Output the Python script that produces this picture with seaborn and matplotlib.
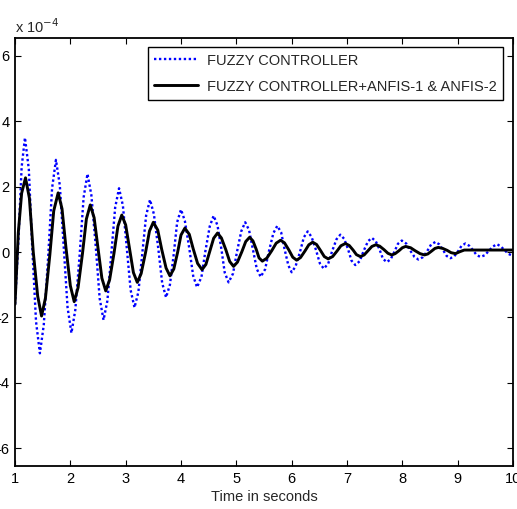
import matplotlib
matplotlib.use("Agg")
import matplotlib.pyplot as plt
import seaborn as sns
import pandas as pd

# ---- data (y in units of 1e-4) ----
t_fuzzy = [1.00, 1.06, 1.12, 1.18, 1.25, 1.31, 1.38, 1.45, 1.52, 1.60, 1.67, 1.74,
           1.81, 1.88, 1.95, 2.02, 2.09, 2.17, 2.24, 2.31, 2.38, 2.46, 2.53, 2.60,
           2.67, 2.74, 2.81, 2.88, 2.95, 3.02, 3.09, 3.16, 3.23, 3.30, 3.37, 3.44,
           3.51, 3.59, 3.66, 3.73, 3.80, 3.87, 3.93, 4.00, 4.07, 4.15, 4.22, 4.29,
           4.37, 4.44, 4.52, 4.59, 4.66, 4.73, 4.79, 4.86, 4.94, 5.01, 5.09, 5.16,
           5.23, 5.30, 5.37, 5.44, 5.52, 5.59, 5.67, 5.74, 5.81, 5.87, 5.94, 6.00,
           6.07, 6.15, 6.22, 6.29, 6.36, 6.44, 6.51, 6.58, 6.66, 6.73, 6.81, 6.88,
           6.95, 7.02, 7.08, 7.15, 7.23, 7.30, 7.38, 7.45, 7.52, 7.59, 7.65, 7.72,
           7.79, 7.86, 7.92, 7.99, 8.07, 8.14, 8.22, 8.29, 8.37, 8.45, 8.52, 8.60,
           8.67, 8.74, 8.80, 8.87, 8.94, 9.01, 9.07, 9.14, 9.21, 9.28, 9.34, 9.41,
           9.49, 9.56, 9.64, 9.71, 9.78, 9.85, 9.92, 10.00]
y_fuzzy = [-1.60, 0.30, 2.60, 3.50, 2.53, 0.20, -2.13, -3.10, -2.23, -0.14, 1.95, 2.82,
           2.04, 0.17, -1.70, -2.48, -1.77, -0.05, 1.67, 2.39, 1.74, 0.16, -1.42, -2.08,
           -1.49, -0.07, 1.36, 1.95, 1.42, 0.13, -1.17, -1.70, -1.22, -0.05, 1.12, 1.60,
           1.16, 0.10, -0.95, -1.39, -1.00, -0.05, 0.91, 1.30, 0.95, 0.11, -0.73, -1.08,
           -0.76, 0.02, 0.79, 1.11, 0.81, 0.09, -0.63, -0.93, -0.66, -0.01, 0.64, 0.91,
           0.67, 0.08, -0.52, -0.76, -0.53, 0.03, 0.58, 0.80, 0.60, 0.10, -0.41, -0.62,
           -0.44, 0.00, 0.45, 0.63, 0.46, 0.06, -0.35, -0.51, -0.36, 0.02, 0.39, 0.53,
           0.40, 0.08, -0.26, -0.40, -0.28, 0.03, 0.33, 0.43, 0.33, 0.07, -0.21, -0.31,
           -0.22, 0.02, 0.25, 0.35, 0.26, 0.05, -0.15, -0.23, -0.16, 0.03, 0.23, 0.31,
           0.23, 0.05, -0.12, -0.19, -0.13, 0.03, 0.19, 0.26, 0.19, 0.05, -0.09, -0.15,
           -0.10, 0.03, 0.17, 0.24, 0.17, 0.05, -0.06, -0.12]

t_anfis = [1.00, 1.06, 1.12, 1.19, 1.26, 1.33, 1.41, 1.48, 1.55, 1.63, 1.70, 1.78,
           1.85, 1.92, 2.00, 2.07, 2.14, 2.22, 2.29, 2.36, 2.43, 2.50, 2.57, 2.64,
           2.71, 2.79, 2.86, 2.93, 3.00, 3.07, 3.14, 3.21, 3.28, 3.36, 3.43, 3.50,
           3.58, 3.65, 3.73, 3.80, 3.87, 3.94, 4.00, 4.07, 4.15, 4.22, 4.30, 4.38,
           4.45, 4.52, 4.59, 4.66, 4.73, 4.81, 4.88, 4.95, 5.02, 5.10, 5.17, 5.24,
           5.30, 5.36, 5.41, 5.47, 5.55, 5.64, 5.72, 5.80, 5.87, 5.95, 6.02, 6.09,
           6.16, 6.24, 6.31, 6.38, 6.45, 6.52, 6.59, 6.66, 6.74, 6.82, 6.89, 6.97,
           7.04, 7.11, 7.17, 7.24, 7.31, 7.38, 7.45, 7.52, 7.59, 7.67, 7.74, 7.81,
           7.87, 7.94, 8.00, 8.06, 8.15, 8.23, 8.32, 8.40, 8.46, 8.53, 8.59, 8.65,
           8.73, 8.81, 8.88, 8.96, 9.04, 9.12, 9.50, 10.00]
y_anfis = [-1.60, 0.60, 1.80, 2.27, 1.65, 0.00, -1.35, -1.96, -1.41, -0.08, 1.26, 1.81,
           1.32, 0.15, -1.03, -1.52, -1.09, -0.04, 1.01, 1.44, 1.05, 0.12, -0.80, -1.19,
           -0.85, -0.03, 0.79, 1.13, 0.83, 0.10, -0.63, -0.93, -0.66, -0.01, 0.64, 0.91,
           0.67, 0.09, -0.49, -0.73, -0.52, 0.00, 0.52, 0.73, 0.54, 0.10, -0.35, -0.54,
           -0.38, 0.02, 0.42, 0.58, 0.43, 0.07, -0.29, -0.44, -0.31, 0.01, 0.32, 0.45,
           0.34, 0.08, -0.18, -0.28, -0.19, 0.04, 0.27, 0.36, 0.28, 0.06, -0.16, -0.25,
           -0.17, 0.03, 0.22, 0.30, 0.23, 0.05, -0.14, -0.21, -0.14, 0.03, 0.19, 0.26,
           0.20, 0.06, -0.08, -0.14, -0.09, 0.04, 0.17, 0.22, 0.18, 0.07, -0.04, -0.09,
           -0.05, 0.04, 0.13, 0.17, 0.13, 0.04, -0.05, -0.09, -0.06, 0.03, 0.11, 0.14,
           0.11, 0.05, -0.02, -0.05, 0.01, 0.06, 0.06, 0.06]

label_fuzzy = "FUZZY CONTROLLER"
label_anfis = "FUZZY CONTROLLER+ANFIS-1 & ANFIS-2"
x_ticks = [1, 2, 3, 4, 5, 6, 7, 8, 9, 10]
y_ticks = [-6, -4, -2, 0, 2, 4, 6]
x_label = "Time in seconds"

sns.set_theme(style="white")
plt.rcParams['font.family'] = ['Liberation Sans', 'DejaVu Sans']

fig = plt.figure(figsize=(5.17, 5.09), dpi=100)
ax = fig.add_axes([15 / 517, 1 - 466 / 509, 498 / 517, 428 / 509])

df_f = pd.DataFrame({"t": t_fuzzy, "y": y_fuzzy})
df_a = pd.DataFrame({"t": t_anfis, "y": y_anfis})

sns.lineplot(data=df_f, x="t", y="y", ax=ax, color=(0, 0, 1), lw=1.7,
             linestyle=(0, (1, 1.1)), label=label_fuzzy, estimator=None, sort=False)
sns.lineplot(data=df_a, x="t", y="y", ax=ax, color="black", lw=2.1,
             label=label_anfis, estimator=None, sort=False)

ax.set_xlim(1, 10)
ax.set_ylim(-6.55, 6.55)
ax.set_xticks(x_ticks)
ax.set_yticks(y_ticks)
ax.set_xticklabels([str(v) for v in x_ticks])
ax.set_yticklabels([str(v) for v in y_ticks])
ax.set_xlabel(x_label, fontsize=10.5, labelpad=3)
ax.set_ylabel("")

for s in ax.spines.values():
    s.set_visible(True)
    s.set_color("black")
    s.set_linewidth(1.3)

ax.tick_params(axis="both", direction="in", length=4, width=0.8, colors="black",
               labelsize=10.5, top=True, right=True, bottom=True, left=True, pad=4)

ax.text(0.0, 1.004, r"x 10$^{-4}$", transform=ax.transAxes, fontsize=10.5,
        ha="left", va="bottom")

leg = ax.legend(loc="upper right", bbox_to_anchor=(0.98, 0.979), borderaxespad=0,
                fontsize=10.5, frameon=True, fancybox=False, handlelength=3.0,
                handletextpad=0.6, borderpad=0.45, labelspacing=0.82)
leg.get_frame().set_edgecolor("black")
leg.get_frame().set_linewidth(1.0)
leg.get_frame().set_alpha(1)

fig.savefig("out.png", dpi=100)
